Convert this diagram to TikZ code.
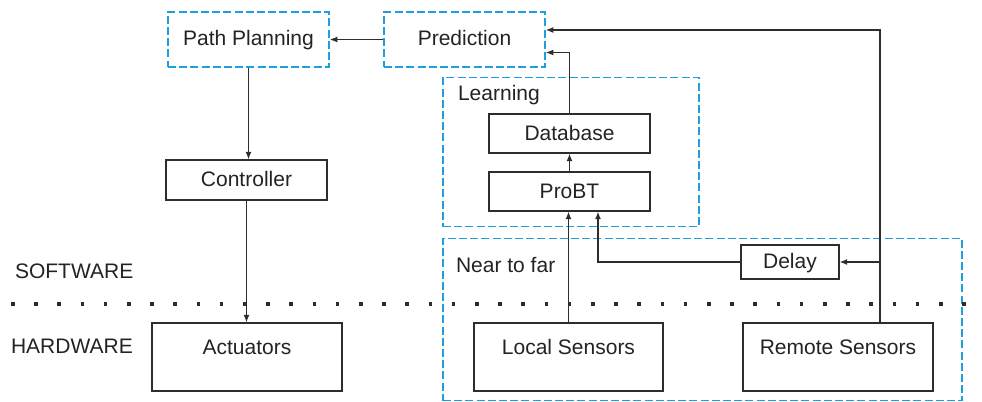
\documentclass[tikz,border=0pt]{standalone}
\usepackage{fontspec}
\setmainfont{Liberation Sans}
\usepackage{tikz}
\usetikzlibrary{arrows.meta}

\definecolor{groupblue}{RGB}{30,158,219}
\definecolor{linegray}{RGB}{45,45,45}
\definecolor{textgray}{RGB}{35,35,35}

\begin{document}
\begin{tikzpicture}[
        x=0.5pt, y=-0.5pt,
        every node/.style={font=\fontsize{10.5}{12.6}\selectfont, text=textgray},
        block/.style={draw=linegray, line width=0.6pt, inner sep=0pt,
                      text height=8pt, text depth=1.2pt},
        wide/.style={block, minimum width=80.5pt, minimum height=19.5pt},
        group/.style={draw=groupblue, line width=0.8pt, inner sep=0pt,
                      dash pattern=on 4pt off 1.6pt},
        planbox/.style={group, minimum width=80.5pt, minimum height=27.5pt,
                        text height=8pt, text depth=2pt},
        hwbox/.style={block, minimum height=34pt, text depth=10.5pt},
        link/.style={draw=linegray, line width=0.6pt,
                     -{Latex[length=3.8pt,width=3pt]}},
        layer/.style={anchor=west}
    ]
        \useasboundingbox (0,0) rectangle (982,402);

        % groups
        \node[group, minimum width=128pt, minimum height=74.5pt] (learn) at (571,152) {};
        \node[layer] (learnlbl) at (451,95) {Learning};
        \node[group, minimum width=259.5pt, minimum height=81pt] (near) at (702.5,319.5) {};
        \node[layer] (nearlbl) at (449,265) {Near to far};

        % software
        \node[planbox] (plan) at (248.5,39.5) {Path Planning};
        \node[planbox] (pred) at (464.5,39.5) {Prediction};
        \node[wide, minimum height=20pt] (ctrl) at (246.5,180) {Controller};
        \node[wide] (db)    at (569.5,133.5) {Database};
        \node[wide] (probt) at (569.5,191.5) {ProBT};
        \node[block, minimum width=49pt, minimum height=17pt] (delay) at (790,262) {Delay};

        % hardware
        \node[hwbox, minimum width=95pt] (act) at (247,357) {Actuators};
        \node[hwbox, minimum width=94.5pt] (local) at (568.5,357) {Local Sensors};
        \node[hwbox, minimum width=95pt] (remote) at (838,357) {Remote Sensors};

        \node[layer] (sw) at (8,271) {SOFTWARE};
        \node[layer] (hw) at (4,346) {HARDWARE};
        \draw[draw=linegray, line width=1.8pt, dash pattern=on 1.8pt off 9.8pt]
            (11,304) -- (975,304);

        % connections
        \coordinate (tap) at (880,262);
        \draw[link] (pred) -- (plan);
        \draw[link] (plan.south) -- (plan.south |- ctrl.north);
        \draw[link] (ctrl.south) -- (ctrl.south |- act.north);
        \draw[link] (probt) -- (db);
        \draw[link] (db.north) |- ([yshift=-6.5pt]pred.east);
        \draw[link] ([xshift=21pt]remote.north) |- ([yshift=4.75pt]pred.east);
        \draw[link] (tap) -- (delay.east);
        \draw[link] (delay.west) -| ([xshift=14.25pt]probt.south);
        \draw[link] (local.north) -- (local.north |- probt.south);
    \end{tikzpicture}
\end{document}
